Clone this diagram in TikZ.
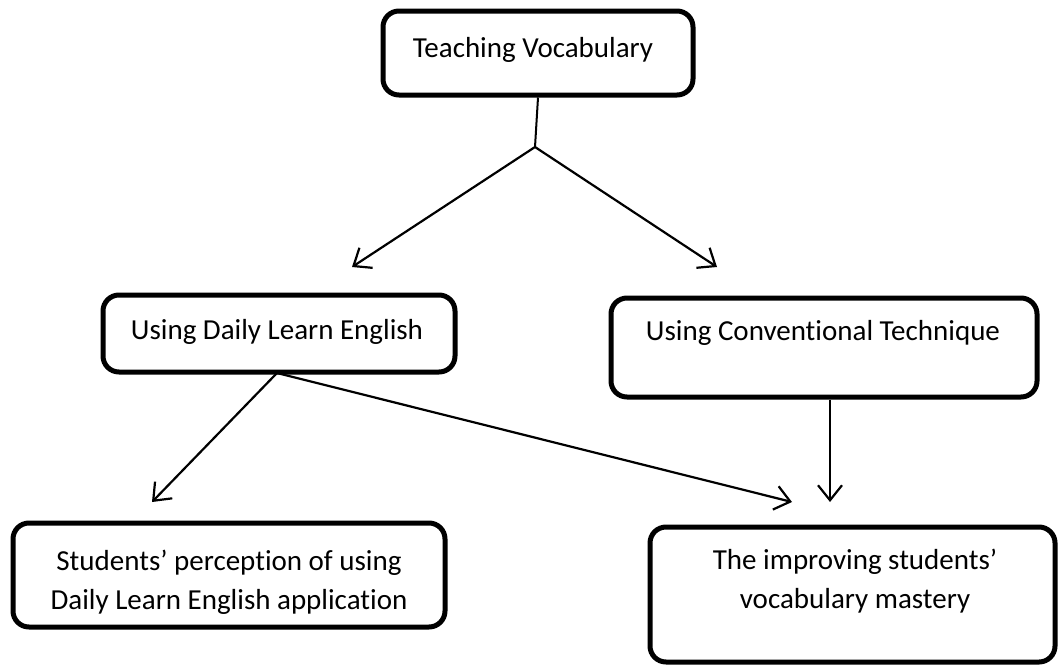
\documentclass[tikz,border=0pt]{standalone}
\usepackage{fontspec}
\setmainfont{Carlito}[Ligatures=NoCommon]
\usetikzlibrary{arrows.meta}
\begin{document}
\begin{tikzpicture}[x=1pt,y=-1pt,
  box/.style={draw=black, line width=5pt, rounded corners=16pt, fill=white, inner sep=0pt},
  txt/.style={font=\fontsize{29}{39}\selectfont, align=center, inner sep=0pt},
  conn/.style={line width=2.2pt, -{Straight Barb[length=15pt,width=24pt,line width=2.2pt]}},
  stem/.style={line width=2pt}]
\useasboundingbox (0,0) rectangle (1059,664);
% boxes
\node[box, minimum width=310pt, minimum height=84pt] (b1) at (538,53) {};
\node[txt] (t1) at (533,50) {Teaching Vocabulary};
\node[box, minimum width=352pt, minimum height=77pt] (b2) at (279,333.5) {};
\node[txt] (t2) at (277,332) {Using Daily Learn English};
\node[box, minimum width=426pt, minimum height=99pt] (b3) at (824,347.5) {};
\node[txt] (t3) at (823,333) {Using Conventional Technique};
\node[box, minimum width=432pt, minimum height=104pt] (b4) at (229,575) {};
\node[txt] (t4) at (229,582) {Students’ perception of using\\Daily Learn English application};
\node[box, minimum width=405pt, minimum height=135pt] (b5) at (852.5,594.5) {};
\node[txt] (t5) at (855,581) {The improving students’\\vocabulary mastery};
% connectors
\coordinate (j) at (535,147);
\coordinate (aL) at (352,267);
\coordinate (aR) at (717,267);
\coordinate (s2) at (277,373);
\coordinate (aS) at (152,502);
\coordinate (aI) at (792,502);
\coordinate (aC) at (830,502);
\draw[stem] (b1.south) -- (j);
\draw[conn] (j) -- (aL);
\draw[conn] (j) -- (aR);
\draw[conn] (s2) -- (aS);
\draw[conn] (s2) -- (aI);
\draw[conn] (b3.south -| aC) -- (aC);
\end{tikzpicture}
\end{document}
